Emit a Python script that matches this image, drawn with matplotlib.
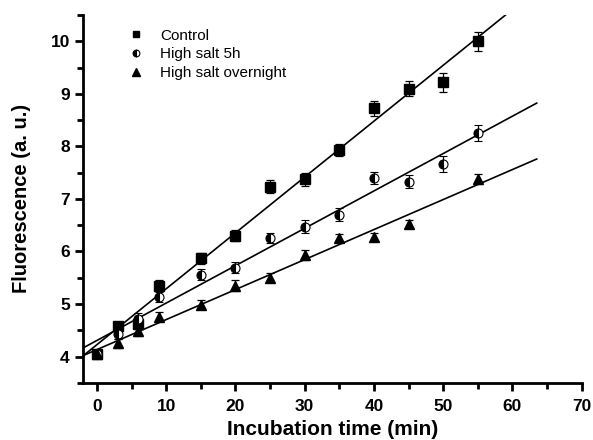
import numpy as np
import matplotlib.pyplot as plt
from matplotlib.ticker import MultipleLocator
from matplotlib.lines import Line2D

plt.rcParams['font.family'] = ['Liberation Sans', 'DejaVu Sans']

# data
t_ctrl = [0, 3, 6, 9, 15, 20, 25, 30, 35, 40, 45, 50, 55]
y_ctrl = [4.05, 4.58, 4.62, 5.35, 5.87, 6.30, 7.23, 7.37, 7.93, 8.72, 9.10, 9.22, 10.00]
e_ctrl = [0.08, 0.08, 0.10, 0.10, 0.10, 0.10, 0.12, 0.12, 0.12, 0.15, 0.15, 0.18, 0.18]

t_5h = [0, 3, 6, 9, 15, 20, 25, 30, 35, 40, 45, 50, 55]
y_5h = [4.05, 4.42, 4.72, 5.13, 5.56, 5.69, 6.26, 6.47, 6.70, 7.40, 7.33, 7.67, 8.26]
e_5h = [0.08, 0.08, 0.10, 0.10, 0.10, 0.10, 0.10, 0.12, 0.12, 0.12, 0.12, 0.15, 0.15]

t_on = [0, 3, 6, 9, 15, 20, 25, 30, 35, 40, 45, 55]
y_on = [4.05, 4.25, 4.48, 4.76, 4.99, 5.35, 5.50, 5.93, 6.25, 6.28, 6.52, 7.38]
e_on = [0.06, 0.08, 0.08, 0.08, 0.08, 0.10, 0.08, 0.10, 0.08, 0.08, 0.08, 0.10]

labels = ['Control', 'High salt 5h', 'High salt overnight']

fig = plt.figure(figsize=(5.93, 4.4), dpi=100)
ax = fig.add_axes([0.14, 0.13, 0.841, 0.836])

kw = dict(ls='none', ecolor='black', elinewidth=0.9, capsize=3, capthick=0.9)
sq = dict(marker='s', ms=6.5, mfc='black', mec='black')
ci = dict(marker='o', ms=6.5, fillstyle='left', mfc='black', mfcalt='white',
          mec='black', mew=0.8)
tr = dict(marker='^', ms=7.5, mfc='black', mec='black')

ax.errorbar(t_ctrl, y_ctrl, yerr=e_ctrl, **sq, **kw)
ax.errorbar(t_5h, y_5h, yerr=e_5h, **ci, **kw)
ax.errorbar(t_on, y_on, yerr=e_on, **tr, **kw)

# linear fits
xx = np.array([-2, 63.5])
for t, y in [(t_ctrl, y_ctrl), (t_5h, y_5h), (t_on, y_on)]:
    p = np.polyfit(t, y, 1)
    ax.plot(xx, np.polyval(p, xx), color='black', lw=1.2)

ax.set_xlim(-2, 70)
ax.set_ylim(3.5, 10.5)
ax.xaxis.set_major_locator(MultipleLocator(10))
ax.xaxis.set_minor_locator(MultipleLocator(5))
ax.yaxis.set_major_locator(MultipleLocator(1))
ax.yaxis.set_minor_locator(MultipleLocator(0.5))
ax.spines['top'].set_visible(False)
ax.spines['right'].set_visible(False)
for s in ['left', 'bottom']:
    ax.spines[s].set_linewidth(2)
ax.tick_params(which='major', direction='out', length=6, width=2, labelsize=12.5)
ax.tick_params(axis='x', which='major', pad=6)
ax.tick_params(which='minor', direction='out', length=4, width=2)
for lab in ax.get_xticklabels() + ax.get_yticklabels():
    lab.set_fontweight('bold')

ax.set_xlabel('Incubation time (min)', fontsize=15, fontweight='bold', labelpad=4)
ax.set_ylabel('Fluorescence (a. u.)', fontsize=14.5, fontweight='bold', labelpad=14)

# legend shows markers only
handles = [Line2D([], [], ls='none', **sq), Line2D([], [], ls='none', **ci),
           Line2D([], [], ls='none', **tr)]
ax.legend(handles, labels, loc='upper left', bbox_to_anchor=(0.06, 1.0), frameon=False,
          fontsize=11, handletextpad=1.0, labelspacing=0.3, handlelength=1.2,
          markerscale=0.75)

fig.savefig('out.png', dpi=100)
